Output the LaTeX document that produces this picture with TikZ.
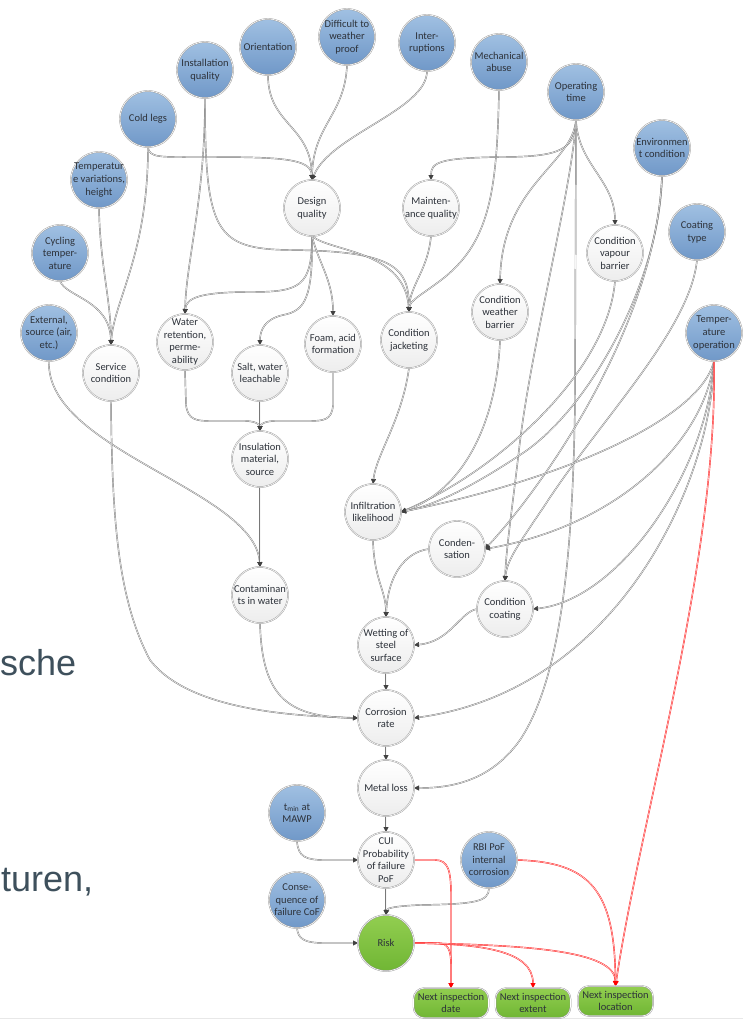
\documentclass[tikz,border=0pt]{standalone}
\usepackage{fontspec}
\setmainfont{Carlito}
\newfontfamily\bgfont{Liberation Sans}
\usetikzlibrary{arrows.meta}
\definecolor{bluetop}{RGB}{160,192,226}
\definecolor{bluebot}{RGB}{112,152,200}
\definecolor{greentop}{RGB}{146,206,80}
\definecolor{greenbot}{RGB}{112,182,52}
\definecolor{slate}{RGB}{62,80,92}
\definecolor{txtc}{RGB}{45,50,58}
\definecolor{edgec}{RGB}{120,120,120}
\pgfdeclarelayer{bglayer}
\pgfsetlayers{bglayer,main}
\tikzset{
  base/.style={circle, minimum size=56pt, inner sep=0pt, outer sep=0pt,
    draw=gray!80, line width=0.45pt, double=white, double distance=0.6pt},
  bnode/.style={base, top color=bluetop, bottom color=bluebot},
  wnode/.style={base, top color=white, bottom color=gray!14},
  gnode/.style={base, top color=greentop, bottom color=greenbot},
  gbox/.style={rectangle, rounded corners=11pt, minimum width=75pt, minimum height=30pt,
    inner sep=0pt, outer sep=0pt, draw=gray!80, line width=0.45pt, double=white,
    double distance=0.6pt, top color=greentop, bottom color=greenbot},
  lbl/.style={font=\fontsize{10.5}{12.6}\selectfont, align=center, text=txtc, inner sep=0pt},
  conn/.style={draw=edgec, line width=0.45pt, double=gray!6, double distance=0.55pt,
    -{Triangle[length=5pt,width=5pt,color=black!75]}},
  rconn/.style={draw=red!90, line width=0.45pt, double=red!12, double distance=0.55pt,
    -{Triangle[length=5pt,width=5pt,color=red]}}
}
\newcommand{\cnd}[4]{\node[#1] (#2) at (#3) {}; \node[lbl] (#2t) at (#2.center) {#4};}
\begin{document}
\begin{tikzpicture}[x=1pt,y=-1pt]
\useasboundingbox (0,0) rectangle (743,1020);
% background slide text
\node[anchor=base west, inner sep=0pt, font=\bgfont\fontsize{36}{40}\selectfont, text=slate] (bga) at (0,675) {sche};
\node[anchor=base west, inner sep=0pt, font=\bgfont\fontsize{36}{40}\selectfont, text=slate] (bgb) at (1,891) {turen,};
% blue source nodes
\cnd{bnode}{inst}{205,70}{Installation\\quality}
\cnd{bnode}{orient}{268,47}{Orientation}
\cnd{bnode}{diff}{347,37}{Difficult to\\weather\\proof}
\cnd{bnode}{inter}{427,43}{Inter-\\ruptions}
\cnd{bnode}{mech}{499,62}{Mechanical\\abuse}
\cnd{bnode}{optime}{576,92}{Operating\\time}
\cnd{bnode}{env}{662,148}{Environmen\\t condition}
\cnd{bnode}{coat}{697,232}{Coating\\type}
\cnd{bnode}{tempop}{714,333}{Temper-\\ature\\operation}
\cnd{bnode}{cold}{148,119}{Cold legs}
\cnd{bnode}{tvar}{99,180}{Temperatur\\e variations,\\height}
\cnd{bnode}{cyc}{60,253}{Cycling\\temper-\\ature}
\cnd{bnode}{ext}{49,333}{External,\\source (air,\\etc.)}
\cnd{bnode}{tmin}{297,813}{t\textsubscript{min} at\\MAWP}
\cnd{bnode}{cof}{297,900}{Conse-\\quence of\\failure CoF}
\cnd{bnode}{rbi}{489,860}{RBI PoF\\internal\\corrosion}
% white intermediate nodes
\cnd{wnode}{design}{312,208}{Design\\quality}
\cnd{wnode}{maint}{431,208}{Mainten-\\ance quality}
\cnd{wnode}{vapour}{615,253}{Condition\\vapour\\barrier}
\cnd{wnode}{weather}{500,312}{Condition\\weather\\barrier}
\cnd{wnode}{jack}{409,340}{Condition\\jacketing}
\cnd{wnode}{serv}{111,373}{Service\\condition}
\cnd{wnode}{water}{185,342}{Water\\retention,\\perme-\\ability}
\cnd{wnode}{salt}{260,373}{Salt, water\\leachable}
\cnd{wnode}{foam}{333,344}{Foam, acid\\formation}
\cnd{wnode}{insul}{260,459}{Insulation\\material,\\source}
\cnd{wnode}{contam}{260,595}{Contaminan\\ts in water}
\cnd{wnode}{infil}{373,512}{Infiltration\\likelihood}
\cnd{wnode}{cond}{457,549}{Conden-\\sation}
\cnd{wnode}{ccoat}{505,609}{Condition\\coating}
\cnd{wnode}{wet}{386,645}{Wetting of\\steel\\surface}
\cnd{wnode}{corr}{386,718}{Corrosion\\rate}
\cnd{wnode}{metal}{386,788}{Metal loss}
\cnd{wnode}{cui}{386,860}{CUI\\Probability\\of failure\\PoF}
% green
\cnd{gnode}{risk}{386,943}{Risk}
\cnd{gbox}{nid}{451,1003}{Next inspection\\date}
\cnd{gbox}{nie}{533,1003}{Next inspection\\extent}
\cnd{gbox}{nil}{615.5,1001}{Next inspection\\location}
\begin{pgfonlayer}{bglayer}
\draw[gray!18, line width=1.6pt] (0,1018.5) -- (743,1018.5);
% into design quality
\draw[conn] (orient.south) .. controls (268,125) and (311,125) .. (design.north);
\draw[conn] (diff.south) .. controls (345,115) and (313,125) .. (design.north);
\draw[conn] (inter.south) .. controls (427,110) and (330,135) .. (design.north);
\draw[conn] (cold.south) .. controls (149,158) and (160,157) .. (200,157) .. controls (280,157) and (311,158) .. (design.north);
% installation quality
\draw[conn] (inst.south) .. controls (205,200) and (186,262) .. (water.north);
\draw[conn] (inst.south) .. controls (205,232) and (215,249) .. (290,250) .. controls (395,251) and (409,268) .. (jack.north);
% design quality out
\draw[conn] (design.south) .. controls (312,287) and (300,292) .. (250,292) .. controls (200,292) and (186,298) .. (water.north);
\draw[conn] (design.south) .. controls (313,298) and (305,311) .. (283,315) .. controls (265,319) and (260,330) .. (salt.north);
\draw[conn] (design.south) .. controls (318,262) and (333,280) .. (foam.north);
\draw[conn] (design.south) .. controls (330,252) and (405,250) .. (jack.north);
% into jacketing
\draw[conn] (maint.south) .. controls (428,270) and (410,285) .. (jack.north);
\draw[conn] (mech.south) .. controls (497,190) and (490,240) .. (445,277) .. controls (422,295) and (410,300) .. (jack.north);
% operating time
\draw[conn] (optime.south) .. controls (575,150) and (560,157) .. (500,157) .. controls (440,158) and (431,162) .. (maint.north);
\draw[conn] (optime.south) .. controls (572,165) and (502,185) .. (weather.north);
\draw[conn] (optime.south) .. controls (578,165) and (615,180) .. (vapour.north);
\draw[conn] (optime.south) .. controls (572,190) and (530,350) .. (519,450) .. controls (512,510) and (506,550) .. (ccoat.north);
\draw[conn] (optime.south) -- (575,400) .. controls (573,560) and (560,680) .. (520,740) .. controls (490,782) and (450,788) .. (metal.east);
% environment, barriers, coating type
\draw[conn] (env.south) .. controls (660,280) and (590,410) .. (520,455) .. controls (470,488) and (435,505) .. (infil.east);
\draw[conn] (env.south) .. controls (655,330) and (540,490) .. (cond.east);
\draw[conn] (vapour.south) .. controls (608,370) and (500,470) .. (infil.east);
\draw[conn] (weather.south) .. controls (497,420) and (465,490) .. (infil.east);
\draw[conn] (coat.south) .. controls (690,330) and (600,420) .. (545,505) .. controls (518,545) and (507,560) .. (ccoat.north);
% temperature operation
\draw[conn] (tempop.south) .. controls (700,420) and (560,480) .. (infil.east);
\draw[conn] (tempop.south) .. controls (705,440) and (620,525) .. (cond.east);
\draw[conn] (tempop.south) .. controls (708,470) and (620,600) .. (ccoat.east);
\draw[conn] (tempop.south) .. controls (712,480) and (620,690) .. (corr.east);
% middle chain
\draw[conn] (jack.south) .. controls (402,420) and (376,455) .. (infil.north);
\draw[conn] (infil.south) .. controls (374,580) and (386,590) .. (wet.north);
\draw[conn] (cond.west) .. controls (405,552) and (388,575) .. (wet.north);
\draw[conn] (ccoat.west) .. controls (460,612) and (450,642) .. (wet.east);
\draw[conn] (wet.south) -- (corr.north);
\draw[conn] (corr.south) -- (metal.north);
\draw[conn] (metal.south) -- (cui.north);
\draw[conn] (cui.south) -- (risk.north);
% left side
\draw[conn] (tvar.south) .. controls (100,265) and (111,300) .. (serv.north);
\draw[conn] (cyc.south) .. controls (66,297) and (110,300) .. (serv.north);
\draw[conn] (cold.south) .. controls (148,255) and (114,300) .. (serv.north);
\draw[conn] (ext.south) .. controls (45,450) and (255,490) .. (contam.north);
\draw[conn] (serv.south) .. controls (112,520) and (118,600) .. (150,660) .. controls (190,712) and (300,716) .. (corr.west);
\draw[conn] (contam.south) .. controls (262,700) and (290,717) .. (corr.west);
\draw[conn] (water.south) -- (186,405) .. controls (188,420) and (196,421) .. (212,421) -- (245,421) .. controls (256,421) and (260,425) .. (insul.north);
\draw[conn] (salt.south) -- (insul.north);
\draw[conn] (foam.south) -- (333,405) .. controls (332,420) and (324,421) .. (308,421) -- (275,421) .. controls (264,421) and (260,425) .. (insul.north);
\draw[conn] (insul.south) -- (contam.north);
% bottom
\draw[conn] (tmin.south) .. controls (298,857) and (306,860) .. (325,860) -- (cui.west);
\draw[conn] (cof.south) .. controls (298,940) and (306,943) .. (325,943) -- (risk.west);
\draw[conn] (rbi.south) .. controls (489,902) and (475,904) .. (420,905) .. controls (396,906) and (387,908) .. (risk.north);
% red
\draw[rconn] (cui.east) -- (435,860) .. controls (448,860) and (451,870) .. (451,895) -- (nid.north);
\draw[rconn] (risk.east) -- (438,943) .. controls (448,943) and (451,950) .. (451,965) -- (nid.north);
\draw[rconn] (risk.east) .. controls (480,944) and (533,950) .. (nie.north);
\draw[rconn] (risk.east) .. controls (525,945) and (615,950) .. (nil.north);
\draw[rconn] (rbi.east) .. controls (590,862) and (615,890) .. (nil.north);
\draw[rconn] (tempop.south) .. controls (718,560) and (640,820) .. (nil.north);
\end{pgfonlayer}
\end{tikzpicture}
\end{document}
